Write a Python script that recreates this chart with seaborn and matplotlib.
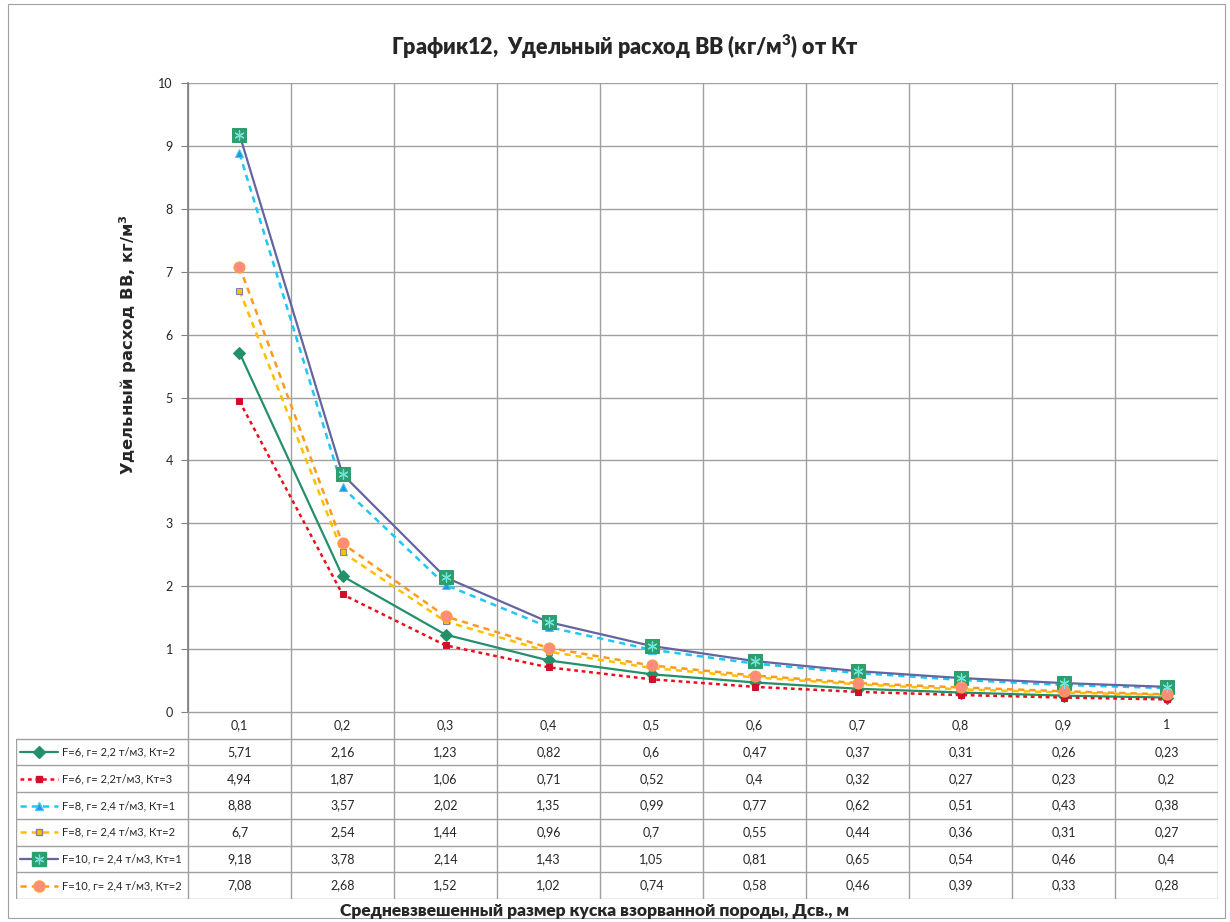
import matplotlib
matplotlib.use("Agg")
import matplotlib.pyplot as plt
import seaborn as sns
import numpy as np
from matplotlib.patches import Rectangle

sns.set_theme(style="white")
plt.rcParams['font.family'] = ['Lato', 'DejaVu Sans']

categories = ["0,1", "0,2", "0,3", "0,4", "0,5", "0,6", "0,7", "0,8", "0,9", "1"]
labels = ["F=6, г= 2,2 т/м3, Кт=2", "F=6, г= 2,2т/м3, Кт=3", "F=8, г= 2,4 т/м3, Кт=1",
          "F=8, г= 2,4 т/м3, Кт=2", "F=10, г= 2,4 т/м3, Кт=1", "F=10, г= 2,4 т/м3, Кт=2"]
s1 = [5.71, 2.16, 1.23, 0.82, 0.6, 0.47, 0.37, 0.31, 0.26, 0.23]
s2 = [4.94, 1.87, 1.06, 0.71, 0.52, 0.4, 0.32, 0.27, 0.23, 0.2]
s3 = [8.88, 3.57, 2.02, 1.35, 0.99, 0.77, 0.62, 0.51, 0.43, 0.38]
s4 = [6.7, 2.54, 1.44, 0.96, 0.7, 0.55, 0.44, 0.36, 0.31, 0.27]
s5 = [9.18, 3.78, 2.14, 1.43, 1.05, 0.81, 0.65, 0.54, 0.46, 0.4]
s6 = [7.08, 2.68, 1.52, 1.02, 0.74, 0.58, 0.46, 0.39, 0.33, 0.28]
series = [s1, s2, s3, s4, s5, s6]

styles = [
    dict(color="#23906A", linestyle="-", marker="D", markersize=6, markerfacecolor="#23906A", markeredgecolor="#23906A", linewidth=1.6),
    dict(color="#E8101C", linestyle=(0, (1.5, 1.5)), marker="s", markersize=5, markerfacecolor="#D0102A", markeredgecolor="#D0102A", linewidth=1.8),
    dict(color="#1EC8F5", linestyle=(0, (2.5, 2)), marker="^", markersize=6, markerfacecolor="#1E9BE0", markeredgecolor="#40C8F0", linewidth=1.8),
    dict(color="#FFC000", linestyle=(0, (2.5, 2)), marker="s", markersize=5, markerfacecolor="#FFC000", markeredgecolor="#8080A0", linewidth=1.8),
    dict(color="#6464A0", linestyle="-", marker="s", markersize=10, markerfacecolor="#2E9E6E", markeredgecolor="#2E9E6E", linewidth=1.6),
    dict(color="#FF9A1E", linestyle=(0, (2.5, 2)), marker="o", markersize=8, markerfacecolor="#FF8C78", markeredgecolor="#FFA040", linewidth=1.8),
]

W, H = 1230, 922
fig = plt.figure(figsize=(W / 100, H / 100), dpi=100)
fig.patch.set_facecolor("white")
fig.patches.append(Rectangle((8 / W, 4 / H), 1217 / W, 914 / H, transform=fig.transFigure,
                             fill=False, edgecolor="#A0A0A0", linewidth=0.8))

L, R, T, B = 188, 1218, 83, 712
ax = fig.add_axes([L / W, 1 - B / H, (R - L) / W, (B - T) / H])
x = np.arange(len(categories))
for vals, st in zip(series, styles):
    sns.lineplot(x=x, y=vals, ax=ax, **st)
    if st["marker"] == "s" and st["markersize"] == 10:
        sns.scatterplot(x=x, y=vals, ax=ax, marker=(6, 2, 0), s=45, color="#6FE6DA", linewidth=0.9, zorder=5)

ax.set_xlim(-0.5, len(categories) - 0.5)
ax.set_ylim(0, 10)
ax.set_yticks(range(0, 11))
ax.set_yticklabels([str(i) for i in range(11)], fontsize=9)
ax.set_xticks(np.arange(-0.5, len(categories), 1))
ax.set_xticklabels([])
ax.tick_params(axis="x", length=0)
ax.tick_params(axis="y", length=5, width=0.8, color="#808080", left=True, pad=6)
ax.grid(True, color="#A0A0A0", linewidth=1.0)
for s in ax.spines.values():
    s.set_visible(False)
ax.spines["left"].set_visible(True)
ax.spines["left"].set_color("#808080")
ax.set_xlabel("")
ax.set_ylabel("Удельный расход ВВ, кг/м$^{\\mathbf{3}}$", fontsize=11.8, fontweight="bold",
              family=["DejaVu Sans"], labelpad=14)
ax.yaxis.set_label_coords(-0.048, (712 - 345) / (712 - 83))

fig.text(0.5 + 0.008, 1 - 47 / H, "График12,  Удельный расход ВВ (кг/м$^{\\mathregular{3}}$) от Кт",
         ha="center", va="center", fontsize=15.5, fontweight="heavy")

# data table
TL, TB = 16, 899
tax = fig.add_axes([TL / W, 1 - TB / H, (R - TL) / W, (TB - B) / H])
colw = (R - L) / len(categories)
left_cat = -0.5 - (L - TL) / colw
tax.set_xlim(left_cat, len(categories) - 0.5)
nrows = len(series) + 1
tax.set_ylim(nrows, 0)
tax.axis("off")
gc = "#A0A0A0"
tax.plot([-0.5, len(categories) - 0.5], [0, 0], color=gc, lw=1.0)
for r in range(1, nrows + 1):
    tax.plot([left_cat, len(categories) - 0.5], [r, r], color=gc, lw=1.0)
tax.plot([left_cat, left_cat], [1, nrows], color=gc, lw=1.0)
for c in range(len(categories) + 1):
    tax.plot([c - 0.5, c - 0.5], [0, nrows], color=gc, lw=1.0)
for c, cat in enumerate(categories):
    tax.text(c, 0.5, cat, ha="center", va="center", fontsize=9)
for r, (vals, st, lab) in enumerate(zip(series, styles, labels), start=1):
    for c, v in enumerate(vals):
        tax.text(c, r + 0.5, f"{v:g}".replace(".", ","), ha="center", va="center", fontsize=9)
    x0 = left_cat + 4 / colw
    x1 = left_cat + 42 / colw
    xm = (x0 + x1) / 2
    tax.plot([x0, x1], [r + 0.5, r + 0.5], color=st["color"], linestyle=st["linestyle"], lw=st["linewidth"])
    tax.plot([xm], [r + 0.5], marker=st["marker"], markersize=st["markersize"],
             markerfacecolor=st["markerfacecolor"], markeredgecolor=st["markeredgecolor"], linestyle="none")
    if st["marker"] == "s" and st["markersize"] == 10:
        tax.plot([xm], [r + 0.5], marker=(6, 2, 0), markersize=7, color="#6FE6DA", mew=0.9, linestyle="none")
    tax.text(left_cat + 46 / colw, r + 0.5, lab, ha="left", va="center", fontsize=8)

fig.text(595 / W, 1 - 911 / H, "Средневзвешенный размер куска взорванной породы, Дсв., м",
         ha="center", va="center", fontsize=12.5, fontweight="heavy")

fig.savefig("out.png", dpi=100)
